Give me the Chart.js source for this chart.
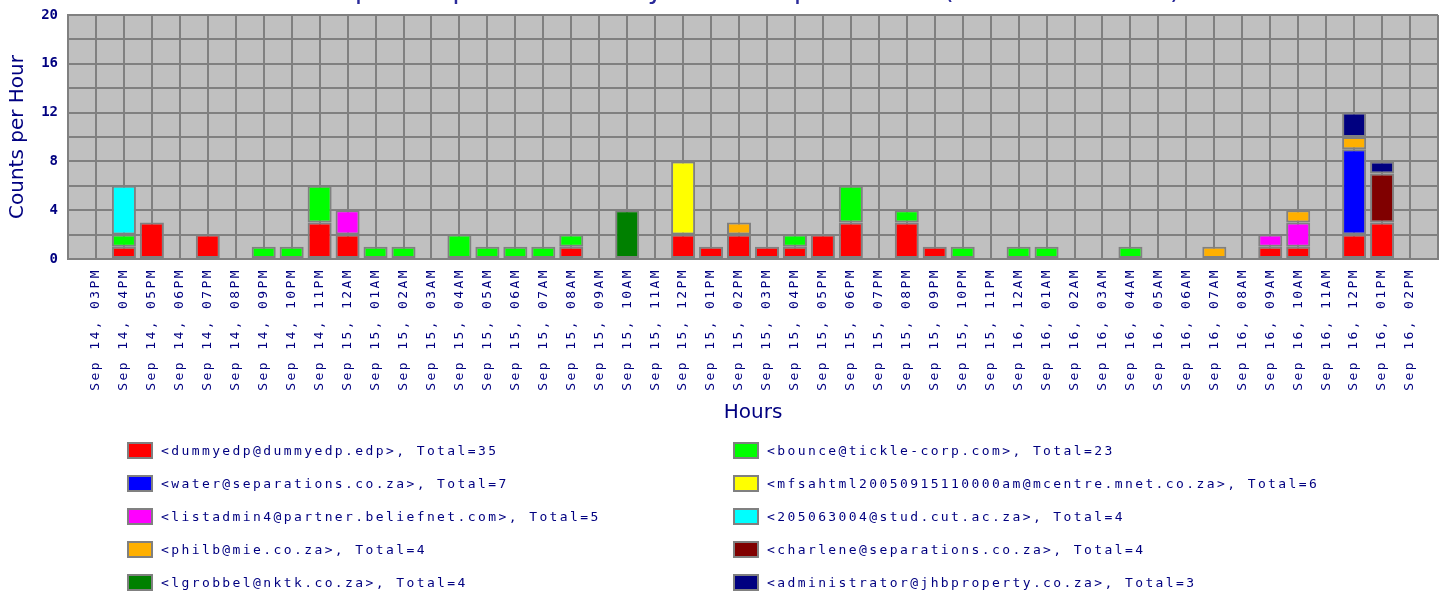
<!DOCTYPE html>
<html>
<head>
<meta charset="utf-8">
<title>Top 10 Spam Counts by Sender per Hour</title>
<script src="https://cdn.jsdelivr.net/npm/chart.js@4.4.1/dist/chart.umd.min.js"></script>
<style>
  html, body { margin: 0; padding: 0; background: #fff; width: 1446px; height: 595px; overflow: hidden; position: relative; }
  /* canvas is shifted up so that the title is cut off like in the original */
  #chartBox { position: absolute; left: 0; top: -25px; width: 1446px; height: 455px; }
  #legend { position: absolute; left: 0; top: 0; width: 1446px; height: 595px; }
  .item { position: absolute; height: 33px; display: flex; align-items: center;
          font: 13px "DejaVu Sans Mono", monospace; letter-spacing: 2.4px; color: #000080; white-space: pre; }
  .swatch { width: 22px; height: 13px; border: 2px solid #808080; margin-right: 8px; }
</style>
</head>
<body>
<div id="chartBox"><canvas id="spamChart" width="1446" height="455"></canvas></div>
<div id="legend"></div>
<script>
// Hour labels (x axis)
const hourLabels = [
    'Sep 14, 03PM', 'Sep 14, 04PM', 'Sep 14, 05PM', 'Sep 14, 06PM', 'Sep 14, 07PM', 'Sep 14, 08PM',
    'Sep 14, 09PM', 'Sep 14, 10PM', 'Sep 14, 11PM', 'Sep 15, 12AM', 'Sep 15, 01AM', 'Sep 15, 02AM',
    'Sep 15, 03AM', 'Sep 15, 04AM', 'Sep 15, 05AM', 'Sep 15, 06AM', 'Sep 15, 07AM', 'Sep 15, 08AM',
    'Sep 15, 09AM', 'Sep 15, 10AM', 'Sep 15, 11AM', 'Sep 15, 12PM', 'Sep 15, 01PM', 'Sep 15, 02PM',
    'Sep 15, 03PM', 'Sep 15, 04PM', 'Sep 15, 05PM', 'Sep 15, 06PM', 'Sep 15, 07PM', 'Sep 15, 08PM',
    'Sep 15, 09PM', 'Sep 15, 10PM', 'Sep 15, 11PM', 'Sep 16, 12AM', 'Sep 16, 01AM', 'Sep 16, 02AM',
    'Sep 16, 03AM', 'Sep 16, 04AM', 'Sep 16, 05AM', 'Sep 16, 06AM', 'Sep 16, 07AM', 'Sep 16, 08AM',
    'Sep 16, 09AM', 'Sep 16, 10AM', 'Sep 16, 11AM', 'Sep 16, 12PM', 'Sep 16, 01PM', 'Sep 16, 02PM'
];

// Senders, in legend / stacking order
const senders = [
    '<dummyedp@dummyedp.edp>',
    '<bounce@tickle-corp.com>',
    '<water@separations.co.za>',
    '<mfsahtml20050915110000am@mcentre.mnet.co.za>',
    '<listadmin4@partner.beliefnet.com>',
    '<205063004@stud.cut.ac.za>',
    '<philb@mie.co.za>',
    '<charlene@separations.co.za>',
    '<lgrobbel@nktk.co.za>',
    '<administrator@jhbproperty.co.za>'
];

const senderColors = ['#ff0000', '#00ff00', '#0000ff', '#ffff00', '#ff00ff',
                      '#00ffff', '#ffb000', '#800000', '#008000', '#000080'];

// Counts per hour, one array per sender
const dummyedp      = [0,1,3,0,2,0,0,0,3,2, 0,0,0,0,0,0,0,1,0,0, 0,2,1,2,1,1,2,3,0,3, 1,0,0,0,0,0,0,0,0,0, 0,0,1,1,0,2,3,0];
const bounce        = [0,1,0,0,0,0,1,1,3,0, 1,1,0,2,1,1,1,1,0,0, 0,0,0,0,0,1,0,3,0,1, 0,1,0,1,1,0,0,1,0,0, 0,0,0,0,0,0,0,0];
const water         = [0,0,0,0,0,0,0,0,0,0, 0,0,0,0,0,0,0,0,0,0, 0,0,0,0,0,0,0,0,0,0, 0,0,0,0,0,0,0,0,0,0, 0,0,0,0,0,7,0,0];
const mfsahtml      = [0,0,0,0,0,0,0,0,0,0, 0,0,0,0,0,0,0,0,0,0, 0,6,0,0,0,0,0,0,0,0, 0,0,0,0,0,0,0,0,0,0, 0,0,0,0,0,0,0,0];
const listadmin4    = [0,0,0,0,0,0,0,0,0,2, 0,0,0,0,0,0,0,0,0,0, 0,0,0,0,0,0,0,0,0,0, 0,0,0,0,0,0,0,0,0,0, 0,0,1,2,0,0,0,0];
const stud205063004 = [0,4,0,0,0,0,0,0,0,0, 0,0,0,0,0,0,0,0,0,0, 0,0,0,0,0,0,0,0,0,0, 0,0,0,0,0,0,0,0,0,0, 0,0,0,0,0,0,0,0];
const philb         = [0,0,0,0,0,0,0,0,0,0, 0,0,0,0,0,0,0,0,0,0, 0,0,0,1,0,0,0,0,0,0, 0,0,0,0,0,0,0,0,0,0, 1,0,0,1,0,1,0,0];
const charlene      = [0,0,0,0,0,0,0,0,0,0, 0,0,0,0,0,0,0,0,0,0, 0,0,0,0,0,0,0,0,0,0, 0,0,0,0,0,0,0,0,0,0, 0,0,0,0,0,0,4,0];
const lgrobbel      = [0,0,0,0,0,0,0,0,0,0, 0,0,0,0,0,0,0,0,0,4, 0,0,0,0,0,0,0,0,0,0, 0,0,0,0,0,0,0,0,0,0, 0,0,0,0,0,0,0,0];
const administrator = [0,0,0,0,0,0,0,0,0,0, 0,0,0,0,0,0,0,0,0,0, 0,0,0,0,0,0,0,0,0,0, 0,0,0,0,0,0,0,0,0,0, 0,0,0,0,0,2,1,0];

const series = [dummyedp, bounce, water, mfsahtml, listadmin4,
                stud205063004, philb, charlene, lgrobbel, administrator];

const NAVY = '#000080';
const GRID = '#808080';

// grey plot background
const plotBackground = {
    id: 'plotBackground',
    beforeDraw(chart) {
        const { ctx, chartArea: a } = chart;
        ctx.save();
        ctx.fillStyle = '#c0c0c0';
        ctx.fillRect(a.left, a.top, a.right - a.left, a.bottom - a.top);
        ctx.restore();
    }
};

function total(values) {
    return values.reduce((s, v) => s + v, 0);
}

// the old pixel font is spaced wide, so the hour labels get some letter spacing
function spacedLabels(scale) {
    scale.drawLabels = function (area) {
        const c = this.ctx;
        c.save();
        c.letterSpacing = '2.4px';
        Chart.Scale.prototype.drawLabels.call(this, area);
        c.restore();
    };
}

function renderChart() {
    const ctx = document.getElementById('spamChart').getContext('2d');

    const datasets = senders.map((name, k) => ({
        label: name + ', Total=' + total(series[k]),
        // hours with no mail are left out so no empty bar is drawn
        data: series[k].map((v, i) => ({ x: i, y: v })).filter(p => p.y > 0),
        backgroundColor: senderColors[k],
        borderColor: GRID,
        borderWidth: 2,
        borderSkipped: false,
        barPercentage: 0.86,
        categoryPercentage: 1
    }));

    return new Chart(ctx, {
        type: 'bar',
        data: { datasets: datasets },
        plugins: [plotBackground],
        options: {
            responsive: false,
            animation: false,
            devicePixelRatio: 1,
            layout: { padding: { left: 0, right: 8, top: 0, bottom: 0 } },
            scales: {
                x: {
                    type: 'linear',
                    min: -1,
                    max: 48,
                    stacked: true,
                    offset: false,
                    grid: { color: GRID, lineWidth: 2, drawTicks: false, offset: false },
                    border: { color: GRID, width: 2 },
                    ticks: {
                        stepSize: 1,
                        maxTicksLimit: 60,
                        autoSkip: false,
                        minRotation: 90,
                        maxRotation: 90,
                        padding: 9,
                        color: NAVY,
                        font: { family: 'DejaVu Sans Mono', size: 13 },
                        callback: (v) => (Number.isInteger(v) && v >= 0 && v < hourLabels.length) ? hourLabels[v] : ''
                    },
                    title: {
                        display: true,
                        text: 'Hours',
                        color: NAVY,
                        font: { family: 'DejaVu Sans', size: 20 },
                        padding: { top: 0, bottom: 5 }
                    },
                    afterFit(scale) {
                        scale.height = 171;
                        scale.paddingLeft = 0;
                        scale.paddingRight = 0;
                        spacedLabels(scale);
                    }
                },
                y: {
                    min: 0,
                    max: 20,
                    stacked: true,
                    grid: { color: GRID, lineWidth: 2, drawTicks: false },
                    border: { color: GRID, width: 2 },
                    ticks: {
                        stepSize: 2,
                        padding: 10,
                        color: NAVY,
                        font: { family: 'DejaVu Sans Mono', size: 14, weight: 'bold' },
                        callback: (v) => (v % 4 === 0 ? v : '')
                    },
                    title: {
                        display: true,
                        text: 'Counts per Hour',
                        color: NAVY,
                        font: { family: 'DejaVu Sans', size: 20 },
                        padding: { top: 6, bottom: 0 }
                    },
                    afterFit(scale) {
                        scale.width = 68;
                        scale.paddingTop = 0;
                        scale.paddingBottom = 0;
                    }
                }
            },
            plugins: {
                legend: { display: false },
                tooltip: { enabled: false },
                title: {
                    display: true,
                    fullSize: false,
                    text: 'Top 10 Spam Counts by Sender per Hour (Last 48 Hours)',
                    color: '#2a2a9a',
                    font: { family: 'DejaVu Sans Mono', size: 27, weight: 'normal' },
                    padding: { top: 0, bottom: 7.6 }
                }
            }
        }
    });
}

// Legend in two columns under the chart
function renderLegend(chart) {
    const box = document.getElementById('legend');
    chart.data.datasets.forEach((ds, k) => {
        const item = document.createElement('div');
        item.className = 'item';
        item.style.left = (k % 2 === 0 ? 127 : 733) + 'px';
        item.style.top = (434 + Math.floor(k / 2) * 33) + 'px';
        const sw = document.createElement('div');
        sw.className = 'swatch';
        sw.style.background = ds.backgroundColor;
        const txt = document.createElement('span');
        txt.textContent = ds.label;
        item.appendChild(sw);
        item.appendChild(txt);
        box.appendChild(item);
    });
}

const chart = renderChart();
renderLegend(chart);
</script>
</body>
</html>
